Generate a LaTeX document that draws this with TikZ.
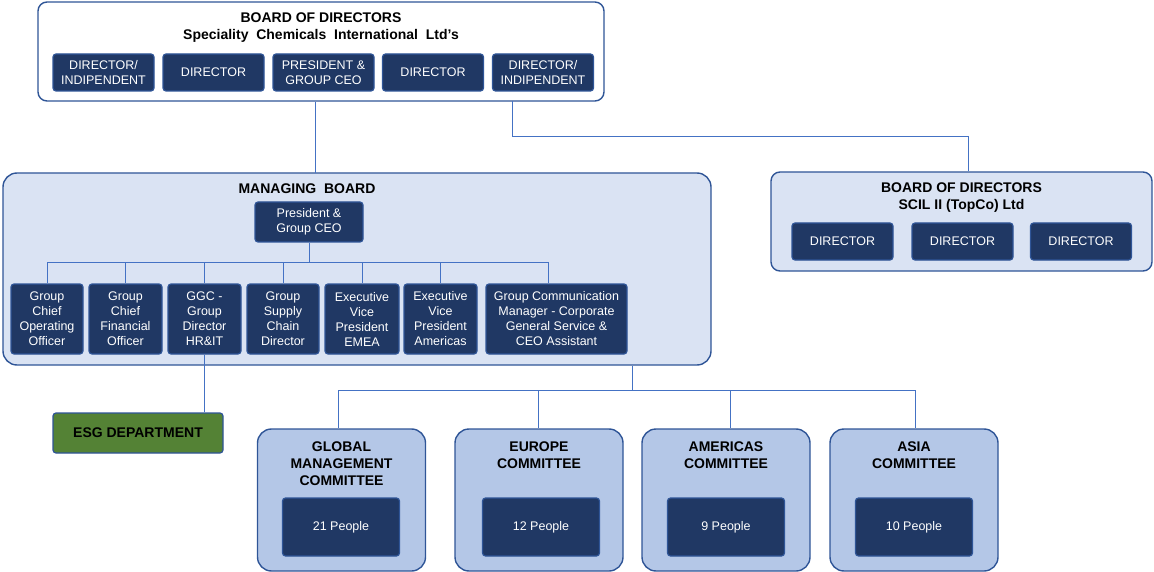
\documentclass[tikz,border=0pt]{standalone}
\usepackage{fontspec}
\setmainfont{Liberation Sans}
\usepackage{tikz}
\definecolor{navy}{HTML}{203864}
\definecolor{edgeblue}{HTML}{2F5597}
\definecolor{linkblue}{HTML}{4472C4}
\definecolor{palefill}{HTML}{DAE3F3}
\definecolor{cmtfill}{HTML}{B4C7E7}
\definecolor{esggreen}{HTML}{548235}
\tikzset{
    darkbox/.style={draw=edgeblue, line width=1.2pt, fill=navy, rounded corners=3pt, text=white,
        align=center, inner sep=0pt, font=\fontsize{12.5}{15}\selectfont},
    panel/.style={draw=edgeblue, line width=1.4pt, rounded corners=#1, inner sep=0pt},
    heading/.style={align=center, inner sep=0pt, font=\fontsize{14}{17}\selectfont\bfseries},
    link/.style={draw=linkblue, line width=1pt}
}

\begin{document}
\begin{tikzpicture}[x=1pt, y=-1pt]
    \useasboundingbox (0, 0) rectangle (1154, 572);
    % board of directors
    \node[panel=9pt, fill=white, minimum width=566pt, minimum height=99pt] (bod) at (321, 51.5) {};
    \node[heading] (bodTitle) at (321, 28) {BOARD OF DIRECTORS\\Speciality~ Chemicals~ International~ Ltd's};
    \node[darkbox, minimum width=101pt, minimum height=37pt] (dirA) at (103.5, 72.5) {DIRECTOR/\\INDIPENDENT};
    \node[darkbox, minimum width=101pt, minimum height=37pt] (dirB) at (213.5, 72.5) {DIRECTOR};
    \node[darkbox, minimum width=101pt, minimum height=37pt] (dirC) at (323.5, 72.5) {PRESIDENT \&\\GROUP CEO};
    \node[darkbox, minimum width=101pt, minimum height=37pt] (dirD) at (433, 72.5) {DIRECTOR};
    \node[darkbox, minimum width=101pt, minimum height=37pt] (dirE) at (543, 72.5) {DIRECTOR/\\INDIPENDENT};

    % topco board
    \node[panel=9pt, fill=palefill, minimum width=381pt, minimum height=99pt] (topco) at (961.5, 221.5) {};
    \node[heading] (topcoTitle) at (961.5, 198) {BOARD OF DIRECTORS\\SCIL II (TopCo) Ltd};
    \node[darkbox, minimum width=101pt, minimum height=37pt] (tcA) at (842.5, 241.5) {DIRECTOR};
    \node[darkbox, minimum width=101pt, minimum height=37pt] (tcB) at (962.5, 241.5) {DIRECTOR};
    \node[darkbox, minimum width=101pt, minimum height=37pt] (tcC) at (1081, 241.5) {DIRECTOR};

    % managing board
    \node[panel=14pt, fill=palefill, minimum width=708pt, minimum height=192pt] (mb) at (357, 269) {};
    \node[heading] (mbTitle) at (307, 188.5) {MANAGING~ BOARD};
    \node[darkbox, minimum width=108pt, minimum height=40pt] (mPres) at (309, 222) {President \&\\Group CEO};
    \node[darkbox, minimum width=72pt, minimum height=70pt] (cOne) at (47, 319) {Group\\Chief\\Operating\\Officer};
    \node[darkbox, minimum width=73pt, minimum height=70pt] (cTwo) at (125.5, 319) {Group\\Chief\\Financial\\Officer};
    \node[darkbox, minimum width=73pt, minimum height=70pt] (cThree) at (204.5, 319) {GGC -\\Group\\Director\\HR\&IT};
    \node[darkbox, minimum width=72pt, minimum height=70pt] (cFour) at (283, 319) {Group\\Supply\\Chain\\Director};
    \node[darkbox, minimum width=74pt, minimum height=70pt] (cFive) at (362, 319) {Executive\\Vice\\President\\EMEA};
    \node[darkbox, minimum width=73pt, minimum height=70pt] (cSix) at (440.5, 319) {Executive\\Vice\\President\\Americas};
    \node[darkbox, minimum width=141pt, minimum height=70pt] (cSeven) at (556.5, 319) {Group Communication\\Manager - Corporate\\General Service \&\\CEO Assistant};

    \node[draw=edgeblue, line width=1.2pt, fill=esggreen, rounded corners=3pt, inner sep=0pt,
        minimum width=170pt, minimum height=40pt, font=\fontsize{14}{17}\selectfont\bfseries] (esg) at (138, 433) {ESG DEPARTMENT};

    % committees
    \foreach \nm/\cx/\txt in {gmc/341.5/{GLOBAL\\MANAGEMENT\\COMMITTEE}, eur/539/{EUROPE\\COMMITTEE},
                              ame/726/{AMERICAS\\COMMITTEE}, asia/914/{ASIA\\COMMITTEE}}{
        \node[panel=14pt, fill=cmtfill, minimum width=168pt, minimum height=142pt] (\nm) at (\cx, 500) {};
        \node[heading, anchor=north] (\nm Title) at (\cx, 442) {\txt};
    }
    \node[darkbox, minimum width=117pt, minimum height=58pt] (gmcPpl) at (341, 527) {21 People};
    \node[darkbox, minimum width=117pt, minimum height=58pt] (eurPpl) at (541, 527) {12 People};
    \node[darkbox, minimum width=117pt, minimum height=58pt] (amePpl) at (726, 527) {9 People};
    \node[darkbox, minimum width=117pt, minimum height=58pt] (asiaPpl) at (914, 527) {10 People};

    % connectors
    \coordinate (mbIn) at (315, 173);
    \coordinate (bodOut) at (512, 101);
    \coordinate (tcIn) at (968, 137);
    \coordinate (mBus) at (0, 262);
    \coordinate (cBus) at (632, 390);
    \draw[link] (mbIn |- bod.south) -- (mbIn);
    \draw[link] (bodOut) |- (tcIn) -- (tcIn |- topco.north);
    \draw[link] (mPres.south) -- (mPres.south |- mBus);
    \draw[link] (mBus -| cOne.north) -- ([xshift=-8pt]mBus -| cSeven.north) -- ([xshift=-8pt]cSeven.north);
    \foreach \c in {cOne, cTwo, cThree, cFour, cFive, cSix}
        \draw[link] (mBus -| \c.north) -- (\c.north);
    \draw[link] (cThree.south) -- (cThree.south |- esg.north);
    \draw[link] (cBus |- mb.south) -- (cBus);
    \draw[link] ([xshift=-3.5pt]cBus -| gmc.north) -- ([xshift=1pt]cBus -| asia.north);
    \foreach \c/\dx in {gmc/-3.5, eur/-1, ame/4, asia/1}
        \draw[link] ([xshift=\dx pt]cBus -| \c.north) -- ([xshift=\dx pt]\c.north);
\end{tikzpicture}
\end{document}
